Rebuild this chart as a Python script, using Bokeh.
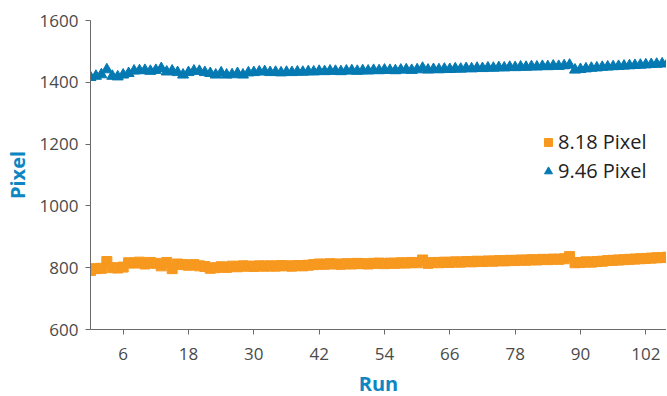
from bokeh.plotting import figure
from bokeh.models import FixedTicker, Legend, LegendItem, Range1d, ColumnDataSource
from bokeh.embed import file_html
from bokeh.resources import INLINE

runs = list(range(0, 107))

pixel_818 = [
    791, 797, 798, 820, 800, 799, 802, 816, 815, 818,
    812, 817, 814, 806, 817, 797, 812, 810, 808, 810,
    806, 804, 798, 800, 803, 801, 805, 803, 806, 805,
    804, 806, 805, 806, 805, 807, 806, 805, 807, 806,
    808, 810, 812, 811, 813, 812, 811, 813, 812, 814,
    813, 812, 814, 815, 813, 815, 814, 816, 815, 817,
    816, 825, 814, 817, 816, 818, 817, 819, 818, 820,
    819, 821, 820, 822, 821, 823, 822, 824, 823, 825,
    824, 826, 825, 827, 826, 828, 827, 829, 836, 816,
    817, 819, 818, 820, 821, 823, 824, 825, 826, 827,
    828, 829, 830, 831, 832, 833, 834,
]

pixel_946 = [
    1416, 1420, 1425, 1441, 1420, 1418, 1424, 1429, 1437, 1438,
    1439, 1436, 1439, 1445, 1434, 1437, 1432, 1424, 1432, 1437,
    1436, 1432, 1429, 1424, 1431, 1424, 1425, 1429, 1424, 1431,
    1432, 1434, 1435, 1432, 1433, 1431, 1433, 1432, 1434, 1433,
    1435, 1434, 1436, 1435, 1437, 1436, 1435, 1437, 1438, 1436,
    1438, 1437, 1439, 1438, 1440, 1439, 1438, 1440, 1441, 1439,
    1441, 1446, 1440, 1442, 1441, 1443, 1442, 1444, 1443, 1445,
    1444, 1446, 1445, 1447, 1446, 1448, 1447, 1449, 1448, 1450,
    1449, 1451, 1450, 1452, 1451, 1453, 1452, 1454, 1456, 1440,
    1442, 1444, 1446, 1447, 1449, 1450, 1451, 1452, 1453, 1454,
    1455, 1456, 1457, 1458, 1459, 1460, 1461,
]

series_names = ["8.18 Pixel", "9.46 Pixel"]
x_ticks = [6, 18, 30, 42, 54, 66, 78, 90, 102]
y_ticks = [600, 800, 1000, 1200, 1400, 1600]

ORANGE = "#f7981f"
BLUE = "#0479b2"
TITLE_BLUE = "#0e86c2"
FONT = "Open Sans"

src = ColumnDataSource(dict(run=runs, a=pixel_818, b=pixel_946))

p = figure(width=666, height=401,
           x_range=Range1d(0, 105.8), y_range=Range1d(600, 1600),
           output_backend="svg", toolbar_location=None,
           min_border_left=88, min_border_right=0,
           min_border_top=20, min_border_bottom=72)
p.outline_line_color = None
p.xgrid.visible = False
p.ygrid.visible = False
p.background_fill_color = "white"
p.border_fill_color = "white"

r1 = p.scatter("run", "a", source=src, marker="square", size=10,
               fill_color=ORANGE, line_color=ORANGE)
r2 = p.scatter("run", "b", source=src, marker="triangle", size=11,
               fill_color=BLUE, line_color=BLUE)

for ax in (p.xaxis[0], p.yaxis[0]):
    ax.axis_line_color = "#6a6a6a"
    ax.major_tick_line_color = "#6a6a6a"
    ax.major_tick_out = 5
    ax.major_tick_in = 0
    ax.minor_tick_line_color = None
    ax.major_label_text_font = FONT
    ax.major_label_text_font_size = "17px"
    ax.major_label_text_color = "#4a4a4a"
    ax.axis_label_text_font = FONT
    ax.axis_label_text_font_size = "20px"
    ax.axis_label_text_font_style = "bold"
    ax.axis_label_text_color = TITLE_BLUE

p.xaxis.ticker = FixedTicker(ticks=x_ticks)
p.yaxis.ticker = FixedTicker(ticks=y_ticks)
p.xaxis.axis_label = "Run"
p.yaxis.axis_label = "Pixel"
p.xaxis.major_label_standoff = 13
p.xaxis.axis_label_standoff = 7
p.yaxis.major_label_standoff = 7
p.yaxis.axis_label_standoff = 6

legend = Legend(items=[LegendItem(label=series_names[0], renderers=[r1]),
                       LegendItem(label=series_names[1], renderers=[r2])],
                location=(448, 145))
legend.border_line_color = None
legend.background_fill_alpha = 0
legend.padding = 0
legend.margin = 0
legend.spacing = 2
legend.glyph_width = 20
legend.glyph_height = 20
legend.label_height = 20
legend.label_standoff = 0
legend.label_text_font = FONT
legend.label_text_font_size = "20px"
legend.label_text_color = "#222222"
p.add_layout(legend)

open("out.html", "w").write(file_html(p, INLINE))
